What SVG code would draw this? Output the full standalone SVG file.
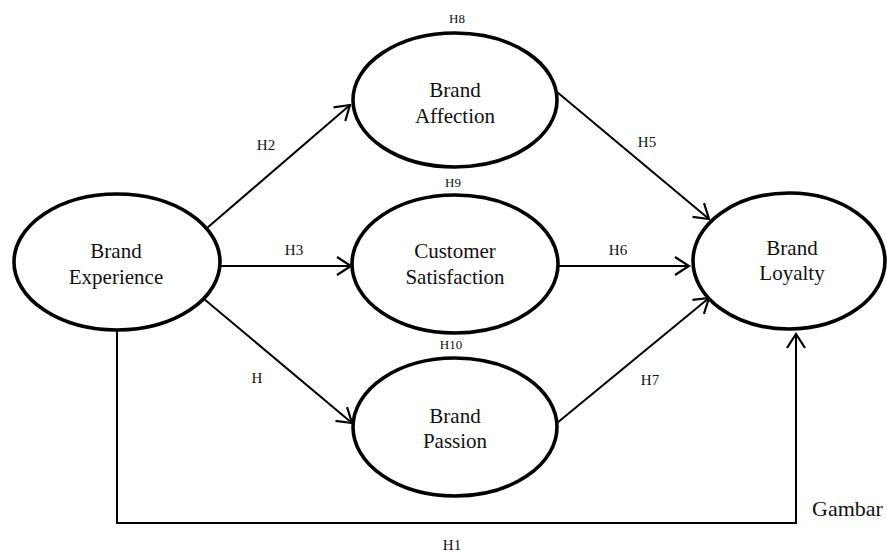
<svg xmlns="http://www.w3.org/2000/svg" width="887" height="552" viewBox="0 0 887 552">
<style>
.node ellipse{fill:#fff;stroke:#000;stroke-width:3.6}
.node text{font-family:"Liberation Serif","Times New Roman",serif;font-size:21px;fill:#111;text-anchor:middle}
.conn line,.conn polyline{stroke:#000;stroke-width:2;fill:none}
.lbl{font-family:"Liberation Serif","Times New Roman",serif;font-size:15px;fill:#111;text-anchor:middle}
.lbs{font-family:"Liberation Serif","Times New Roman",serif;font-size:13px;fill:#111;text-anchor:middle}
</style>
<defs>
<marker id="arr" viewBox="-16 -11 18 22" refX="0" refY="0" markerWidth="18" markerHeight="22" markerUnits="userSpaceOnUse" orient="auto">
<path d="M-14,-9 L0,0 L-14,9" fill="none" stroke="#000" stroke-width="2.2"/>
</marker>
</defs>
<rect width="887" height="552" fill="#fff"/>
<g class="conn">
<line x1="207" y1="228" x2="350" y2="105" marker-end="url(#arr)"/>
<line x1="220" y1="266" x2="351" y2="266" marker-end="url(#arr)"/>
<line x1="204" y1="299" x2="352" y2="423" marker-end="url(#arr)"/>
<line x1="557" y1="92" x2="709" y2="219" marker-end="url(#arr)"/>
<line x1="559" y1="266" x2="689" y2="266" marker-end="url(#arr)"/>
<line x1="557" y1="423" x2="709" y2="298" marker-end="url(#arr)"/>
<polyline points="117,330 117,523 796,523 796,334" marker-end="url(#arr)"/>
</g>
<g id="brand-experience" class="node">
<ellipse cx="117" cy="262" rx="103" ry="68"/>
<text x="116" y="258">Brand</text>
<text x="116" y="284">Experience</text>
</g>
<g id="brand-affection" class="node">
<ellipse cx="455" cy="100" rx="102" ry="67"/>
<text x="455" y="97">Brand</text>
<text x="455" y="123">Affection</text>
</g>
<g id="customer-satisfaction" class="node">
<ellipse cx="455" cy="264" rx="103" ry="69"/>
<text x="455" y="258">Customer</text>
<text x="455" y="284">Satisfaction</text>
</g>
<g id="brand-passion" class="node">
<ellipse cx="455" cy="427" rx="102" ry="69"/>
<text x="455" y="423">Brand</text>
<text x="455" y="448">Passion</text>
</g>
<g id="brand-loyalty" class="node">
<ellipse cx="789" cy="261" rx="96" ry="68"/>
<text x="792" y="255">Brand</text>
<text x="792" y="280">Loyalty</text>
</g>
<g id="labels">
<text class="lbs" x="457" y="23">H8</text>
<text class="lbs" x="453" y="187">H9</text>
<text class="lbs" x="451" y="349">H10</text>
<text class="lbl" x="266" y="150">H2</text>
<text class="lbl" x="294" y="255">H3</text>
<text class="lbl" x="257" y="383">H</text>
<text class="lbl" x="647" y="147">H5</text>
<text class="lbl" x="618" y="255">H6</text>
<text class="lbl" x="650" y="385">H7</text>
<text class="lbl" x="452" y="550">H1</text>
<text x="812" y="516" font-family="Liberation Serif, Times New Roman, serif" font-size="22" fill="#111">Gambar</text>
</g>
</svg>
